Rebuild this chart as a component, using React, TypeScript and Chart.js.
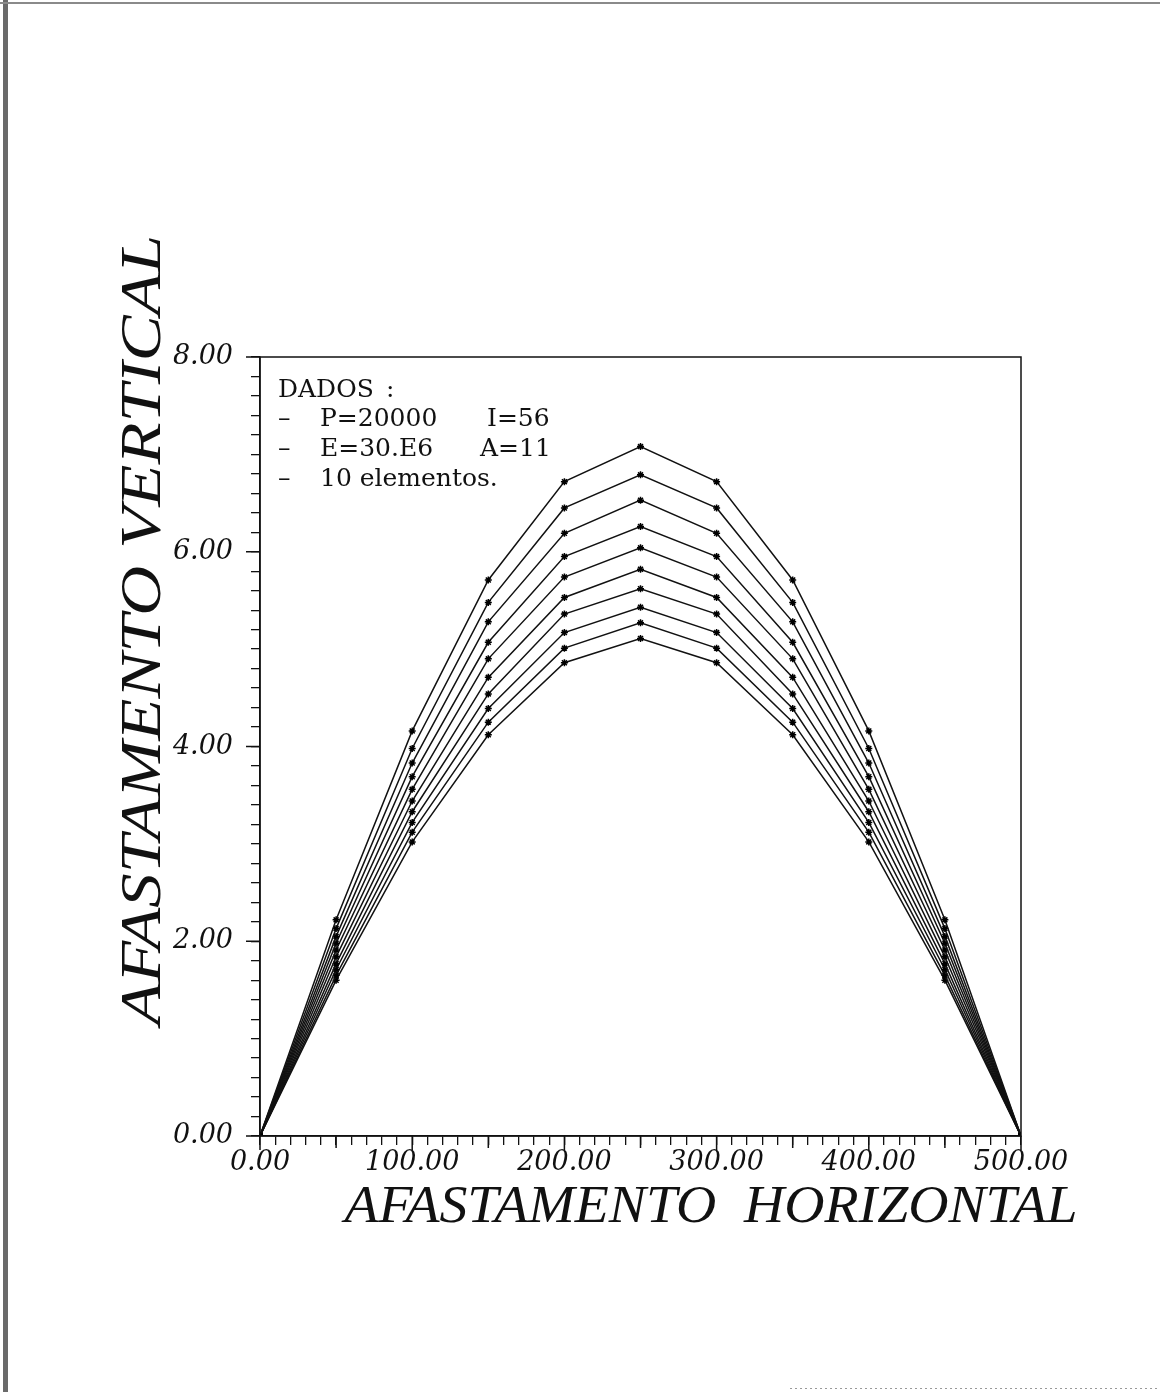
import React, { useEffect, useRef } from "react";
import { Chart, registerables } from "chart.js";

Chart.register(...registerables);

const XS = [0, 50, 100, 150, 200, 250, 300, 350, 400, 450, 500];

const CURVE_1 = [0, 2.22, 4.16, 5.71, 6.72, 7.08, 6.72, 5.71, 4.16, 2.22, 0];
const CURVE_2 = [0, 2.13, 3.98, 5.48, 6.45, 6.79, 6.45, 5.48, 3.98, 2.13, 0];
const CURVE_3 = [0, 2.05, 3.83, 5.28, 6.19, 6.53, 6.19, 5.28, 3.83, 2.05, 0];
const CURVE_4 = [0, 1.98, 3.69, 5.07, 5.95, 6.26, 5.95, 5.07, 3.69, 1.98, 0];
const CURVE_5 = [0, 1.91, 3.56, 4.9, 5.74, 6.04, 5.74, 4.9, 3.56, 1.91, 0];
const CURVE_6 = [0, 1.84, 3.44, 4.71, 5.53, 5.82, 5.53, 4.71, 3.44, 1.84, 0];
const CURVE_7 = [0, 1.77, 3.33, 4.54, 5.36, 5.62, 5.36, 4.54, 3.33, 1.77, 0];
const CURVE_8 = [0, 1.71, 3.22, 4.39, 5.17, 5.43, 5.17, 4.39, 3.22, 1.71, 0];
const CURVE_9 = [0, 1.65, 3.12, 4.25, 5.01, 5.27, 5.01, 4.25, 3.12, 1.65, 0];
const CURVE_10 = [0, 1.6, 3.02, 4.12, 4.86, 5.11, 4.86, 4.12, 3.02, 1.6, 0];

const CURVES = [CURVE_1, CURVE_2, CURVE_3, CURVE_4, CURVE_5, CURVE_6, CURVE_7, CURVE_8, CURVE_9, CURVE_10];

const X_TICK_VALUES = [0, 100, 200, 300, 400, 500];
const X_TICK_LABELS = ["0.00", "100.00", "200.00", "300.00", "400.00", "500.00"];
const Y_TICK_VALUES = [0, 2, 4, 6, 8];
const Y_TICK_LABELS = ["0.00", "2.00", "4.00", "6.00", "8.00"];

const X_TITLE = "AFASTAMENTO  HORIZONTAL";
const Y_TITLE = "AFASTAMENTO VERTICAL";

const LEGEND_LINES = [
  ["DADOS :", "", ""],
  ["\u2013", "P=20000", "I=56"],
  ["\u2013", "E=30.E6", "A=11"],
  ["\u2013", "10 elementos.", ""],
];

function labelFor(v: number, values: number[], labels: string[]) {
  for (let i = 0; i < values.length; i++) {
    if (Math.abs(values[i] - v) < 1e-6) return labels[i];
  }
  return "";
}

const decorPlugin = {
  id: "decor",
  beforeDraw(chart: any) {
    const ctx = chart.ctx;
    ctx.save();
    ctx.fillStyle = "#ffffff";
    ctx.fillRect(0, 0, chart.width, chart.height);
    // scanned page edges
    ctx.fillStyle = "#6a6a6a";
    ctx.fillRect(3, 0, 5, chart.height);
    ctx.fillStyle = "#8a8a8a";
    ctx.fillRect(0, 2, chart.width, 2);
    ctx.strokeStyle = "#999";
    ctx.setLineDash([2, 3]);
    ctx.lineWidth = 1;
    ctx.beginPath();
    ctx.moveTo(790, 1388.5);
    ctx.lineTo(1160, 1388.5);
    ctx.stroke();
    ctx.setLineDash([]);
    ctx.restore();
  },
  afterDraw(chart: any) {
    const ctx = chart.ctx;
    const area = chart.chartArea;
    const xs = chart.scales.x;
    const ys = chart.scales.y;
    ctx.save();
    // box
    ctx.strokeStyle = "#111";
    ctx.lineWidth = 1.5;
    ctx.strokeRect(area.left, area.top, area.right - area.left, area.bottom - area.top);
    ctx.lineWidth = 1.5;
    // longer major ticks
    ctx.beginPath();
    for (let v = 0; v <= 500; v += 50) {
      const px = xs.getPixelForValue(v);
      const len = v % 100 === 0 ? 14 : 12;
      ctx.moveTo(px, area.bottom);
      ctx.lineTo(px, area.bottom + len);
    }
    for (let v = 0; v <= 8; v += 2) {
      const py = ys.getPixelForValue(v);
      ctx.moveTo(area.left, py);
      ctx.lineTo(area.left - 14, py);
    }
    ctx.stroke();

    // legend text
    ctx.fillStyle = "#111";
    ctx.textBaseline = "alphabetic";
    ctx.textAlign = "left";
    ctx.font = '25px "DejaVu Serif"';
    const baselines = [397, 426, 456, 486];
    LEGEND_LINES.forEach((ln, i) => {
      const b = baselines[i];
      if (i === 0) {
        ctx.fillText("DADOS", 278, b);
        ctx.fillText(":", 386, b);
      } else {
        ctx.fillText(ln[0], 278, b);
        ctx.fillText(ln[1], 320, b);
        if (ln[2]) ctx.fillText(ln[2], i === 1 ? 487 : 480, b);
      }
    });

    // axis titles, fitted to the widths in the reference
    ctx.font = 'italic 52px "Liberation Serif"';
    ctx.textAlign = "center";
    let w = ctx.measureText(X_TITLE).width;
    ctx.save();
    ctx.translate(711, 1222);
    ctx.scale(733 / w, 1);
    ctx.fillText(X_TITLE, 0, 0);
    ctx.restore();

    ctx.font = 'italic 58px "Liberation Serif"';
    w = ctx.measureText(Y_TITLE).width;
    ctx.save();
    ctx.translate(160, 630);
    ctx.rotate(-Math.PI / 2);
    ctx.scale(790 / w, 1);
    ctx.fillText(Y_TITLE, 0, 0);
    ctx.restore();

    ctx.restore();
  },
};

export default function App() {
  const ref = useRef<HTMLCanvasElement | null>(null);
  useEffect(() => {
    if (!ref.current) return;
    const datasets = CURVES.map((c, k) => ({
      label: "Curva " + (k + 1),
      data: XS.map((x, i) => ({ x, y: c[i] })),
      borderColor: "#111",
      backgroundColor: "#111",
      borderWidth: 1.5,
      pointStyle: "star",
      pointRadius: 3.5,
      pointBorderWidth: 1.5,
      pointBorderColor: "#000",
      pointBackgroundColor: "#000",
      tension: 0,
      fill: false,
    }));
    const chart = new Chart(ref.current, {
      type: "line",
      data: { datasets },
      options: {
        animation: false,
        responsive: false,
        events: [],
        layout: { padding: { left: 0, top: 357, right: 139, bottom: 196 } },
        plugins: { legend: { display: false }, tooltip: { enabled: false }, title: { display: false } },
        scales: {
          x: {
            type: "linear",
            min: 0,
            max: 500,
            afterFit: (s: any) => {
              s.height = 60;
            },
            ticks: {
              stepSize: 10,
              autoSkip: false,
              maxRotation: 0,
              padding: 2,
              color: "#111",
              font: { family: "DejaVu Serif", style: "italic", size: 27 },
              callback: (v: any) => labelFor(Number(v), X_TICK_VALUES, X_TICK_LABELS),
            },
            grid: { drawOnChartArea: false, drawTicks: true, tickLength: 9, color: "#111", lineWidth: 1.3 },
            border: { display: true, color: "#111", width: 1.5 },
          },
          y: {
            type: "linear",
            min: 0,
            max: 8,
            afterFit: (s: any) => {
              s.width = 260;
            },
            ticks: {
              stepSize: 0.2,
              autoSkip: false,
              padding: 18,
              color: "#111",
              font: { family: "DejaVu Serif", style: "italic", size: 27 },
              callback: (v: any) => labelFor(Number(v), Y_TICK_VALUES, Y_TICK_LABELS),
            },
            grid: { drawOnChartArea: false, drawTicks: true, tickLength: 9, color: "#111", lineWidth: 1.3 },
            border: { display: true, color: "#111", width: 1.5 },
          },
        },
      },
      plugins: [decorPlugin],
    } as any);
    return () => chart.destroy();
  }, []);
  return (
    <div style={{ position: "absolute", left: 0, top: 0, width: 1160, height: 1392, background: "#fff" }}>
      <canvas ref={ref} width={1160} height={1392} style={{ display: "block", width: 1160, height: 1392 }} />
    </div>
  );
}
